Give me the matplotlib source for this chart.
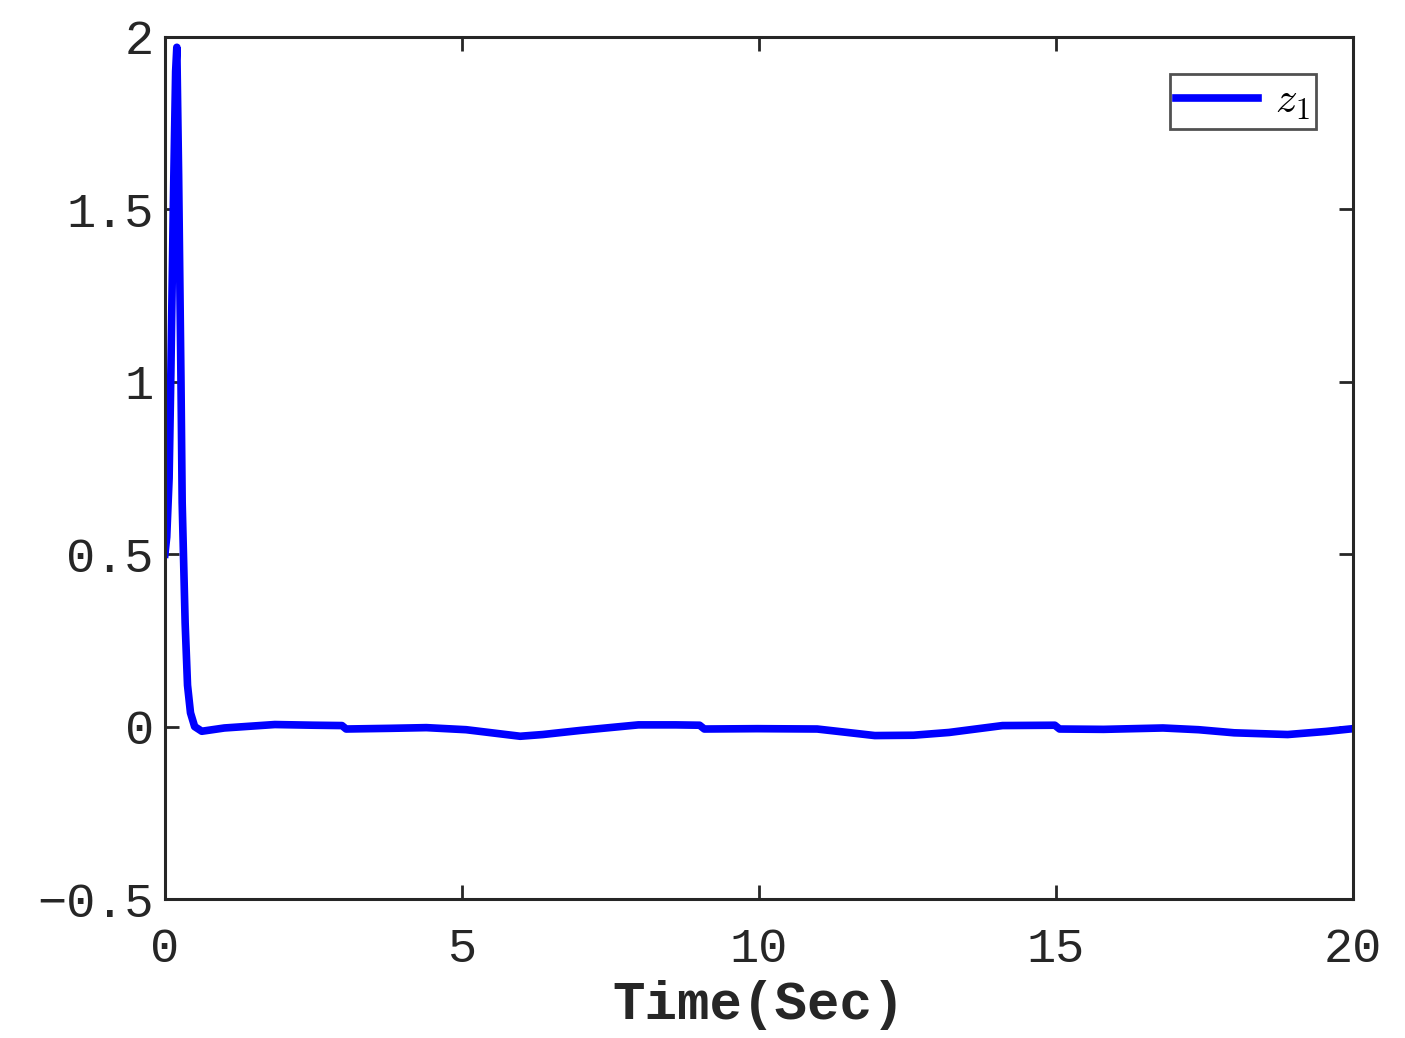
import matplotlib
matplotlib.use("Agg")
import matplotlib.pyplot as plt

# data
t = [0.0, 0.03, 0.07, 0.10, 0.14, 0.18, 0.20, 0.23, 0.27, 0.29, 0.34, 0.38, 0.43, 0.50, 0.62,
     1.0, 1.85, 2.5, 2.98, 3.05, 3.8, 4.4, 5.07, 5.98, 6.36, 7.0, 7.97, 8.6, 9.0, 9.08, 9.97,
     10.98, 11.95, 12.6, 13.2, 14.1, 14.98, 15.06, 15.8, 16.8, 17.4, 18.0, 18.9, 19.55, 20.0]
z1 = [0.50, 0.55, 0.72, 1.03, 1.50, 1.90, 1.97, 1.60, 1.00, 0.65, 0.30, 0.12, 0.04, 0.0, -0.0135,
      -0.004, 0.006, 0.004, 0.003, -0.007, -0.005, -0.003, -0.009, -0.028, -0.023, -0.011, 0.005, 0.005, 0.004, -0.007, -0.006,
      -0.007, -0.026, -0.025, -0.017, 0.003, 0.004, -0.007, -0.008, -0.004, -0.009, -0.018, -0.023, -0.014, -0.006]

xticks = [0, 5, 10, 15, 20]
yticks = [-0.5, 0, 0.5, 1, 1.5, 2]
ytick_labels = ["\u22120.5", "0", "0.5", "1", "1.5", "2"]

plt.rcParams['mathtext.fontset'] = 'cm'
col = '#262626'

fig = plt.figure(figsize=(14.05, 10.38), dpi=100)
ax = fig.add_axes([0.1174, 0.1339, 0.9630 - 0.1174, 0.9644 - 0.1339])
ax.plot(t, z1, color='#0000ff', lw=5.5, label='$z_1$', solid_joinstyle='round')
ax.set_xlim(0, 20)
ax.set_ylim(-0.5, 2)
ax.set_xticks(xticks)
ax.set_xticklabels([str(v) for v in xticks])
ax.set_yticks(yticks)
ax.set_yticklabels(ytick_labels)
for s in ax.spines.values():
    s.set_linewidth(2.2)
    s.set_color(col)
ax.tick_params(direction='in', length=10, width=2, colors=col, top=True, right=True)
ax.tick_params(axis='x', pad=20)
ax.tick_params(axis='y', pad=8)
for lab in ax.get_xticklabels() + ax.get_yticklabels():
    lab.set_fontfamily(['Liberation Mono', 'DejaVu Sans Mono'])
    lab.set_fontsize(35)
    lab.set_color(col)
ax.set_xlabel('Time(Sec)', fontfamily='Liberation Mono', fontweight='bold', fontsize=39, color=col, labelpad=6)
leg = ax.legend(loc='upper right', fontsize=31, frameon=True, fancybox=False,
                edgecolor=col, handlelength=1.9, borderaxespad=0.85, borderpad=0.15, handletextpad=0.4)
leg.get_frame().set_linewidth(2)
fig.savefig('out.png', dpi=100, facecolor='white')
